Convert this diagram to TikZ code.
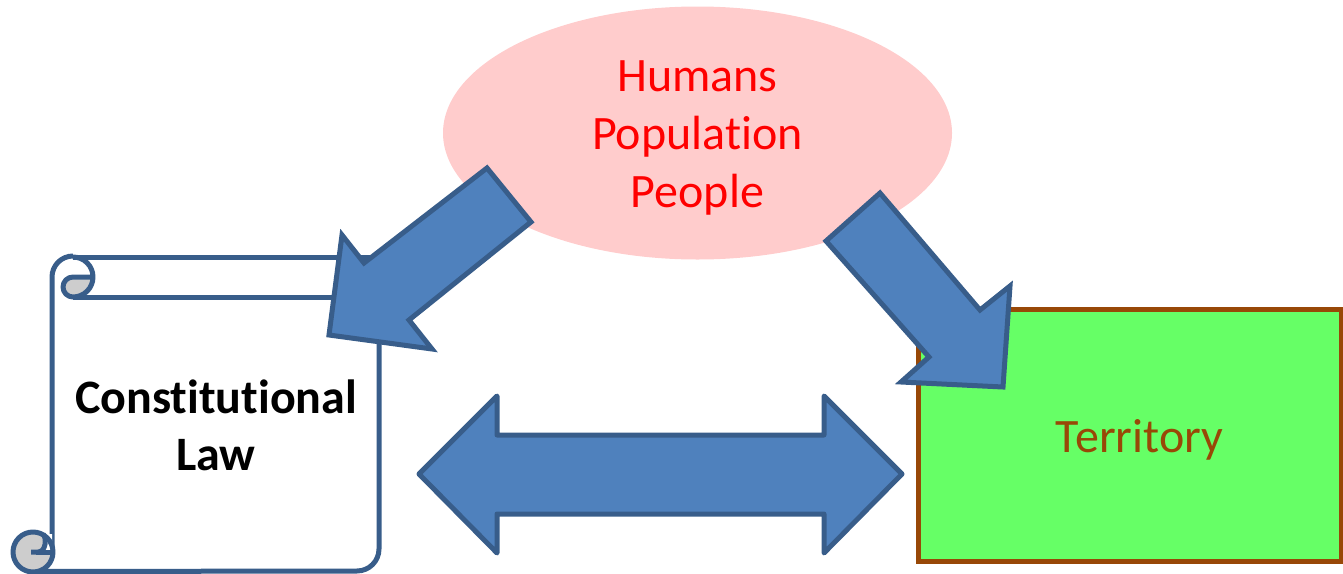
\documentclass[tikz,border=0pt]{standalone}
\usepackage{fontspec}
\usetikzlibrary{shapes.geometric}
\setmainfont[Ligatures=NoCommon,Contextuals=NoAlternate]{Carlito}
\definecolor{arrowfill}{HTML}{4F81BD}
\definecolor{arrowline}{HTML}{385D8A}
\definecolor{terrfill}{HTML}{66FF66}
\definecolor{terrline}{HTML}{984807}
\definecolor{pplfill}{HTML}{FFCCCC}
\definecolor{curlfill}{HTML}{CDCDCD}
\tikzset{
  blockarrow/.style={fill=arrowfill,draw=arrowline,line width=5pt,miter limit=10,line join=miter},
  scrollline/.style={draw=arrowline,line width=5pt,line join=round},
  label35/.style={align=center,inner sep=0pt},
}
\begin{document}
\begin{tikzpicture}[x=1pt,y=-1pt]
\useasboundingbox (0,0) rectangle (1343,573);
% scroll
\fill[white] (52,277) rectangle (379,571);
\path[scrollline] (73,257) -- (379,257);
\path[scrollline] (73,297) -- (379,297);
\path[scrollline] (379,297) -- (379,549) arc[start angle=0,end angle=90,radius=22] -- (33,571.5);
\path[scrollline] (52,552) -- (52,277) arc[start angle=180,end angle=270,radius=21];
% upper curl
\path[fill=curlfill] (91,277) arc[start angle=0,end angle=90,radius=18] -- (73,295) arc[start angle=90,end angle=270,radius=8] -- cycle;
\path[scrollline] (73,257) arc[start angle=-90,end angle=90,radius=20] arc[start angle=90,end angle=270,radius=10] -- (93,277);
% lower curl
\path[fill=curlfill] (33,552) circle[radius=19];
\path[fill=white] (44,534) -- (52,534) -- (52,552) -- (38,552) .. controls (46,552) and (47,538) .. cycle;
\path[scrollline] (33,572) arc[start angle=90,end angle=450,radius=20];
\path[scrollline] (43,534) .. controls (47,538) and (46,552) .. (38,552) -- (31,552);
\path[scrollline] (36,552) -- (53,552);
% territory
\node[draw=terrline,fill=terrfill,line width=5pt,outer sep=0pt,minimum width=423pt,minimum height=252pt,inner sep=0pt,anchor=north west] (terr) at (918.5,309) {};
% people
\node[ellipse,fill=pplfill,minimum width=509pt,minimum height=253pt,inner sep=0pt] (ppl) at (697.5,133) {};
% arrows
\draw[blockarrow] (487,168) -- (531,222) -- (409,320) -- (432,349) -- (329,335) -- (342,235) -- (364,263) -- cycle;
\draw[blockarrow] (880,193) -- (826,241) -- (929,357) -- (901,382) -- (1003,387) -- (1010,286) -- (980,310) -- cycle;
\draw[blockarrow,line join=round] (419,474) -- (497,396) -- (497,435) -- (824,435) -- (824,396) -- (902,474) -- (824,553) -- (824,514) -- (497,514) -- (497,553) -- cycle;
% texts
\node[label35,text=red,font=\fontsize{48}{58}\selectfont] (ppltext) at (697.5,138) {Humans\\Population\\People};
\node[label35,text=black,font=\fontsize{48}{57}\selectfont\bfseries] (lawtext) at (216,425) {Constitutional\\Law};
\node[label35,text=terrline,font=\fontsize{48}{50}\selectfont] (terrtext) at (1139.5,440) {Territory};
\end{tikzpicture}
\end{document}
